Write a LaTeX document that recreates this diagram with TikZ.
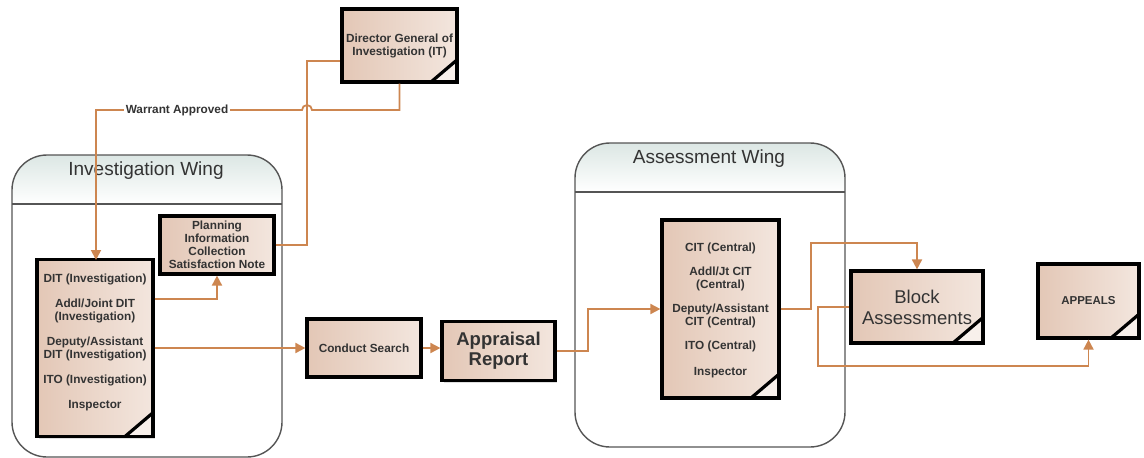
\documentclass[tikz,border=0pt]{standalone}
\usepackage{fontspec}
\setmainfont{Liberation Sans}
\usetikzlibrary{arrows.meta,shadows}
\definecolor{conn}{HTML}{CD8650}
\definecolor{boxA}{HTML}{E3C7B6}
\definecolor{boxB}{HTML}{F3E6DE}
\definecolor{hdrA}{HTML}{DCE7E4}
\definecolor{wingline}{HTML}{555555}
\tikzset{
  pagebox/.style={draw=black,line width=3.2pt,inner sep=2pt,align=center,
    left color=boxA,right color=boxB,
    drop shadow={shadow xshift=2pt,shadow yshift=-2pt,opacity=0.25},
    font=\bfseries\fontsize{11.8}{14}\selectfont,text=black!80},
  foldbox/.style={pagebox,
    path picture={
      \fill[boxB!60!white] ([xshift=-#1]path picture bounding box.south east) -- (path picture bounding box.south east) -- ([yshift=0.85*#1]path picture bounding box.south east) -- cycle;
      \draw[line width=3.2pt] ([xshift=-#1]path picture bounding box.south east) -- ([yshift=0.85*#1]path picture bounding box.south east);}},
  wingtitle/.style={font=\fontsize{19}{21}\selectfont,text=black!80},
  txt/.style={font=\bfseries\fontsize{11.8}{13}\selectfont,text=black!80,align=center},
  link/.style={draw=conn,line width=1.8pt},
  arr/.style={link,-{Triangle[length=10pt,width=10pt]}},
}
\begin{document}
\begin{tikzpicture}[x=1pt,y=-1pt]
\useasboundingbox (0,0) rectangle (1144,458);
% wings
\begin{scope}
\path[top color=hdrA,bottom color=white] (12,204) -- (12,190) arc[start angle=180,end angle=90,radius=35pt] -- (247,155) arc[start angle=90,end angle=0,radius=35pt] -- (282,204) -- cycle;
\draw[wingline,line width=1.4pt,rounded corners=35pt] (12,155) rectangle (282,457);
\draw[wingline,line width=1.4pt] (12,204) -- (282,204);
\node[wingtitle] (invT) at (146,171) {Investigation Wing};
\path[top color=hdrA,bottom color=white] (575,192) -- (575,178) arc[start angle=180,end angle=90,radius=35pt] -- (810,143) arc[start angle=90,end angle=0,radius=35pt] -- (845,192) -- cycle;
\draw[wingline,line width=1.4pt,rounded corners=35pt] (575,143) rectangle (845,447);
\draw[wingline,line width=1.4pt] (575,192) -- (845,192);
\node[wingtitle] (aswT) at (709,159) {Assessment Wing};
\end{scope}
% boxes
\node[foldbox=26pt,minimum width=115pt,minimum height=73pt] (dg) at (399.5,45.5) {Director General of\\[-1pt]Investigation (IT)};
\node[pagebox,minimum width=114pt,minimum height=58pt,font=\bfseries\fontsize{11.8}{13}\selectfont] (pl) at (217,245) {Planning\\Information\\Collection\\Satisfaction Note};
\node[foldbox=28pt,minimum width=116pt,minimum height=177pt] (dit) at (95,348) {};
\node[txt] (ditT) at (95,342) {DIT (Investigation)\\[12pt]Addl/Joint DIT\\(Investigation)\\[12pt]Deputy/Assistant\\DIT (Investigation)\\[12pt]ITO (Investigation)\\[12pt]Inspector};
\node[pagebox,minimum width=114pt,minimum height=58pt] (cs) at (364,348) {Conduct Search};
\node[pagebox,minimum width=113pt,minimum height=59pt,font=\bfseries\fontsize{18.5}{20}\selectfont] (ar) at (498.5,351) {Appraisal\\Report};
\node[foldbox=28pt,minimum width=117pt,minimum height=178pt] (cit) at (720.5,309) {};
\node[txt] (citT) at (720.5,310) {CIT (Central)\\[11pt]Addl/Jt CIT\\(Central)\\[11pt]Deputy/Assistant\\CIT (Central)\\[11pt]ITO (Central)\\[13pt]Inspector};
\node[foldbox=30pt,minimum width=132pt,minimum height=72pt,font=\fontsize{18.5}{21}\selectfont] (ba) at (917,307) {Block\\Assessments};
\node[foldbox=28pt,minimum width=101pt,minimum height=74pt,font=\bfseries\fontsize{11.5}{13}\selectfont] (ap) at (1088.5,301) {APPEALS};
% connectors
\draw[arr] (dg.south) -- (399.5,110) -- (312,110) arc[start angle=0,end angle=180,radius=5pt] -- (96,110) -- (96,260);
\node[font=\bfseries\fontsize{11.8}{13}\selectfont,text=black!80,fill=white,inner sep=2pt] (wa) at (177,110) {Warrant Approved};
\draw[link] (pl.east) -- (307,245) -- (307,61) -- (dg.west |- 0,61);
\draw[arr] (dit.east |- 0,299) -- (217,299) -- (pl.south);
\draw[arr] (dit.east) -- (cs.west);
\draw[arr] (cs.east) -- (cs.east -| ar.west);
\draw[arr] (ar.east) -- (588,351) -- (588,309) -- (cit.west);
\draw[arr] (cit.east) -- (811,309) -- (811,243) -- (917,243) -- (ba.north);
\draw[arr] (ba.west) -- (818,307) -- (818,366) -- (1088.5,366) -- (ap.south);
\end{tikzpicture}
\end{document}
